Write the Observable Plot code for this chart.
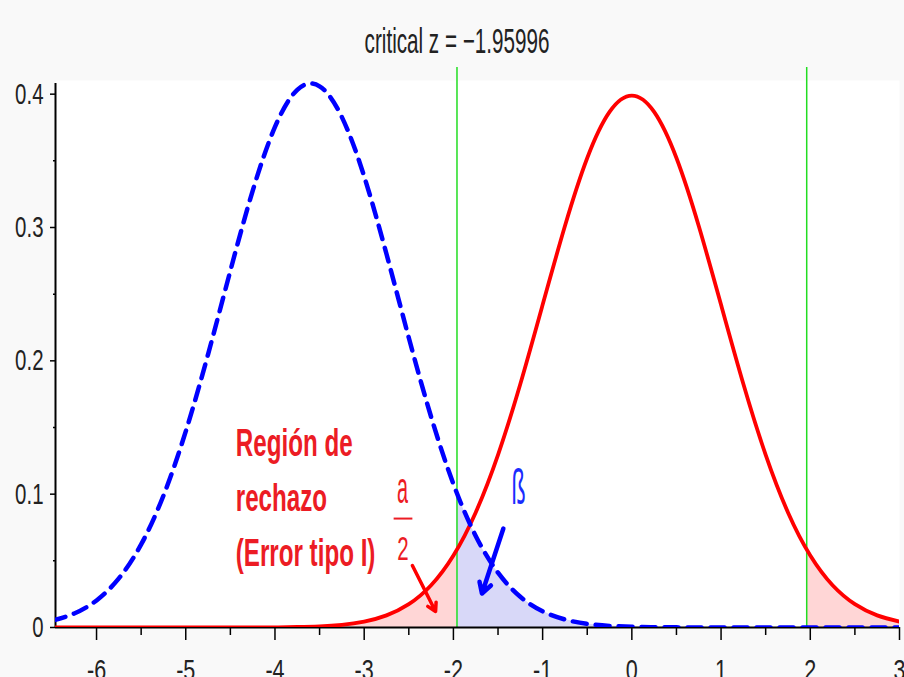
<!DOCTYPE html>
<html><head><meta charset="utf-8">
<script src="https://cdn.jsdelivr.net/npm/d3@7"></script>
<script src="https://cdn.jsdelivr.net/npm/@observablehq/plot@0.6"></script>
<style>
html,body{margin:0;padding:0;background:#f9f9f9;}
#chart svg{display:block;}
</style></head><body>
<div id="chart"></div>
<script>
// ---- data ----
const xs = [-6.5,-6.25,-6,-5.75,-5.5,-5.25,-5,-4.75,-4.5,-4.25,-4,-3.75,-3.5,-3.25,-3,-2.75,-2.5,-2.25,-2,-1.75,-1.5,-1.25,-1,-0.75,-0.5,-0.25,0,0.25,0.5,0.75,1,1.25,1.5,1.75,2,2.25,2.5,2.75,3];
const redDensity = [0,0,0,0,0,0,0,0,0,0,0.0001,0.0004,0.0009,0.0020,0.0044,0.0091,0.0175,0.0317,0.0540,0.0863,0.1295,0.1826,0.2420,0.3011,0.3521,0.3867,0.3989,0.3867,0.3521,0.3011,0.2420,0.1826,0.1295,0.0863,0.0540,0.0317,0.0175,0.0091,0.0044];
const blueDensity = [0.0051,0.0105,0.0203,0.0368,0.0623,0.0989,0.1471,0.2049,0.2676,0.3275,0.3754,0.4033,0.4059,0.3828,0.3383,0.2801,0.2173,0.1580,0.1076,0.0687,0.0411,0.0230,0.0121,0.0060,0.0027,0.0012,0.0005,0.0002,0.0001,0,0,0,0,0,0,0,0,0,0];
const criticalZ = [-1.95996, 1.95996];
const redAtCritical = 0.0584;
const blueAtCritical = 0.1006;
const xTicks = [-6,-5,-4,-3,-2,-1,0,1,2,3];
const xMinorTicks = [-5.5,-4.5,-3.5,-2.5,-1.5,-0.5,0.5,1.5,2.5];
const yTicks = [0,0.1,0.2,0.3,0.4];
const yMinorTicks = [0.05,0.15,0.25,0.35];
const titleText = ["critical z = \u22121.95996"];
// annotations
const regionLabel = ["Región de\nrechazo\n(Error tipo I)"];
const regionLabelX = [-4.44];
const regionLabelY = [0.1580];
const alphaNum = ["a"], alphaNumX = [-2.57], alphaNumY = [0.1040];
const alphaDen = ["2"], alphaDenX = [-2.565], alphaDenY = [0.0585];
const alphaBar = [{x1: -2.67, x2: -2.46, y: 0.0817}];
const betaLabel = ["ß"], betaX = [-1.27], betaY = [0.105];
const redArrow = [{x1: -2.46, y1: 0.0465, x2: -2.20, y2: 0.012}];
const blueArrow = [{x1: -1.44, y1: 0.0742, x2: -1.68, y2: 0.0255}];
const xDomain = [-6.46, 3];
const yDomain = [0, 0.42];
const yAxisTop = 0.408;

// ---- tables built from the arrays ----
const pts = xs.map((x, i) => ({x, red: redDensity[i], blue: blueDensity[i]}));
const redLeft = pts.filter(d => d.x < criticalZ[0]).map(d => ({x: d.x, y: d.red})).concat([{x: criticalZ[0], y: redAtCritical}]);
const redRight = [{x: criticalZ[1], y: redAtCritical}].concat(pts.filter(d => d.x > criticalZ[1]).map(d => ({x: d.x, y: d.red})));
const blueRight = [{x: criticalZ[0], y: blueAtCritical}].concat(pts.filter(d => d.x > criticalZ[0]).map(d => ({x: d.x, y: d.blue})));

const RED = "#ff0000", BLUE = "#0000ff", TXTRED = "#ec1c24";

const svg = Plot.plot({
  width: 904, height: 677,
  marginLeft: 55, marginRight: 5, marginTop: 67, marginBottom: 50,
  x: {domain: xDomain},
  y: {domain: yDomain},
  style: {background: "#f9f9f9", fontFamily: "'Liberation Sans', Arial, sans-serif", color: "#222"},
  marks: [
    Plot.frame({fill: "white", stroke: null, insetTop: 13}),
    Plot.areaY(redLeft, {x: "x", y: "y", fill: "#ffd6d6", curve: "natural", clip: true}),
    Plot.areaY(redRight, {x: "x", y: "y", fill: "#ffd6d6", curve: "natural", clip: true}),
    Plot.areaY(blueRight, {x: "x", y: "y", fill: "#d8d8f8", curve: "natural", clip: true}),
    Plot.ruleX(criticalZ, {stroke: "#22dd22", strokeWidth: 1.5}),
    Plot.ruleY([0], {stroke: "black", strokeWidth: 2}),
    Plot.ruleX([xDomain[0]], {y1: 0, y2: yAxisTop, stroke: "black", strokeWidth: 2}),
    Plot.axisX({ticks: xTicks, tickSize: 13, tickPadding: 18, tickFormat: d => String(d), fontSize: 30, label: null, stroke: "black", strokeWidth: 1.5}),
    Plot.axisX({ticks: xMinorTicks, tickSize: 8, text: null, label: null, stroke: "black", strokeWidth: 1.5}),
    Plot.axisY({ticks: yTicks, tickSize: 5, tickPadding: 7, tickFormat: d => d === 0 ? "0" : d.toFixed(1), fontSize: 30, label: null, stroke: "black", strokeWidth: 1.5}),
    Plot.axisY({ticks: yMinorTicks, tickSize: 2, text: null, label: null, stroke: "black", strokeWidth: 1.5}),
    Plot.line(pts, {x: "x", y: "red", stroke: RED, strokeWidth: 3.8, curve: "natural", clip: true}),
    Plot.line(pts, {x: "x", y: "blue", stroke: BLUE, strokeWidth: 4.5, strokeDasharray: "14,9", curve: "natural", clip: true}),
    Plot.text(titleText, {text: d => d, frameAnchor: "top-left", dx: 401.5, dy: -26, textAnchor: "middle", lineAnchor: "middle", fontSize: 35, fill: "#222"}),
    Plot.text(regionLabel, {text: d => d, x: (d, i) => regionLabelX[i], y: (d, i) => regionLabelY[i], textAnchor: "start", lineAnchor: "top", lineHeight: 1.41, fontSize: 39, fontWeight: "bold", fill: TXTRED}),
    Plot.text(alphaNum, {text: d => d, x: (d, i) => alphaNumX[i], y: (d, i) => alphaNumY[i], textAnchor: "middle", lineAnchor: "middle", fontSize: 44, fill: TXTRED}),
    Plot.text(alphaDen, {text: d => d, x: (d, i) => alphaDenX[i], y: (d, i) => alphaDenY[i], textAnchor: "middle", lineAnchor: "middle", fontSize: 34, fill: TXTRED}),
    Plot.link(alphaBar, {x1: "x1", x2: "x2", y1: "y", y2: "y", stroke: TXTRED, strokeWidth: 2}),
    Plot.text(betaLabel, {text: d => d, x: (d, i) => betaX[i], y: (d, i) => betaY[i], textAnchor: "middle", lineAnchor: "middle", fontSize: 50, fill: "#1a2cff"}),
    Plot.arrow(redArrow, {x1: "x1", y1: "y1", x2: "x2", y2: "y2", stroke: RED, strokeWidth: 3.5, headLength: 4}),
    Plot.arrow(blueArrow, {x1: "x1", y1: "y1", x2: "x2", y2: "y2", stroke: BLUE, strokeWidth: 4.5, headLength: 4})
  ]
});
document.getElementById("chart").append(svg);

function squeeze(nodes, ratio) {
  nodes.forEach(n => {
    const L = n.getComputedTextLength();
    if (L > 0) {
      n.setAttribute("textLength", (L * ratio).toFixed(1));
      n.setAttribute("lengthAdjust", "spacingAndGlyphs");
    }
  });
}
const allText = Array.from(svg.querySelectorAll("text"));
const byContent = s => allText.filter(t => t.textContent === s);
const tickTexts = allText.filter(t => {
  const g = t.closest("g[aria-label]");
  return g && /tick label/.test(g.getAttribute("aria-label"));
});
squeeze(tickTexts.filter(t => /x-axis/.test(t.closest("g[aria-label]").getAttribute("aria-label"))), 0.72);
squeeze(tickTexts.filter(t => /y-axis/.test(t.closest("g[aria-label]").getAttribute("aria-label"))), 0.68);
squeeze(byContent(titleText[0]), 0.59);
const regionText = allText.filter(t => t.querySelector("tspan") && t.querySelector("tspan").textContent === "Región de");
regionText.forEach(t => squeeze(Array.from(t.querySelectorAll("tspan")), 0.62));
squeeze(byContent(alphaNum[0]).filter(t => !tickTexts.includes(t)), 0.45);
squeeze(byContent(alphaDen[0]).filter(t => !tickTexts.includes(t)), 0.6);
squeeze(byContent(betaLabel[0]), 0.46);
</script>
</body></html>
